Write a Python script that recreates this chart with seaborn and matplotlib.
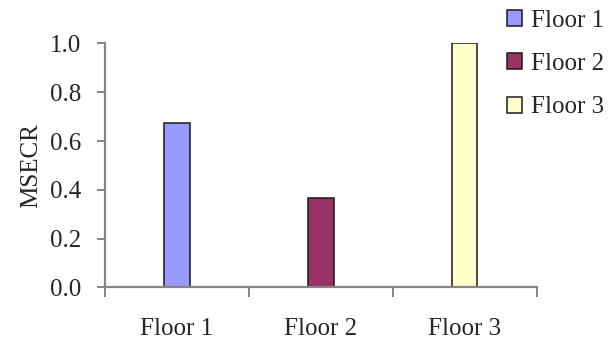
import matplotlib
matplotlib.use("Agg")
import matplotlib.pyplot as plt
from matplotlib.patches import Patch
from matplotlib.ticker import MultipleLocator, FixedLocator, FormatStrFormatter
import seaborn as sns
import pandas as pd

floors = ["Floor 1", "Floor 2", "Floor 3"]
msecr = [0.673, 0.366, 1.0]
colors = ["#9999FF", "#993366", "#FFFFCC"]

sns.set_style("white")
plt.rcParams["font.family"] = ["Liberation Serif", "DejaVu Serif"]

df = pd.DataFrame({"floor": floors, "MSECR": msecr})

fig = plt.figure(figsize=(6.16, 3.41), dpi=100)
ax = fig.add_axes([0.1705, 0.157, 0.701, 0.7155])

sns.barplot(data=df, x="floor", y="MSECR", hue="floor", palette=colors,
            saturation=1, width=0.175, dodge=False, legend=False, ax=ax,
            edgecolor="#1a1a1a", linewidth=1.1)

ax.set_xlim(-0.5, 2.5)
ax.set_ylim(0, 1.0)
ax.yaxis.set_major_locator(MultipleLocator(0.2))
ax.yaxis.set_major_formatter(FormatStrFormatter("%.1f"))

spine_color = "#858585"
for side in ["top", "right"]:
    ax.spines[side].set_visible(False)
for side in ["left", "bottom"]:
    ax.spines[side].set_color(spine_color)
    ax.spines[side].set_linewidth(1.6)

ax.tick_params(axis="y", which="major", direction="out", length=6, width=1.4,
               color=spine_color, labelsize=18, pad=11, left=True)
ax.tick_params(axis="x", which="major", length=0, labelsize=18, pad=22)
ax.xaxis.set_minor_locator(FixedLocator([-0.5, 0.5, 1.5, 2.5]))
ax.tick_params(axis="x", which="minor", direction="out", length=7, width=1.4,
               color=spine_color, bottom=True)

ax.set_xlabel("")
ax.set_ylabel("MSECR", fontsize=18, labelpad=6)

handles = [Patch(facecolor=c, edgecolor="#1a1a1a", linewidth=1.1, label=f)
           for f, c in zip(floors, colors)]
fig.legend(handles=handles, loc="upper left", bbox_to_anchor=(0.787, 1.037),
           frameon=False, fontsize=18, handlelength=0.6, handleheight=0.6,
           handletextpad=0.35, labelspacing=0.85)

fig.savefig("out.png", dpi=100, facecolor="white")
